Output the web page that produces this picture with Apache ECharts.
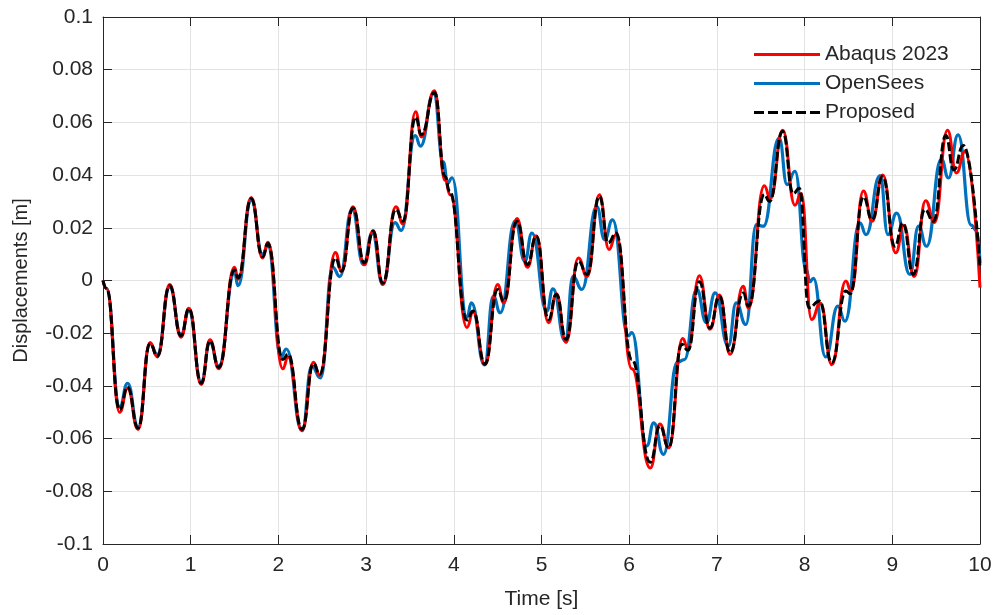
<!DOCTYPE html>
<html>
<head>
<meta charset="utf-8">
<script src="https://cdn.jsdelivr.net/npm/echarts@6/dist/echarts.min.js"></script>
<style>
html,body{margin:0;padding:0;background:#fff;}
#chart{width:997px;height:615px;}
</style>
</head>
<body>
<div id="chart"></div>
<script>
// ---- Data ----
var xTicks = [0,1,2,3,4,5,6,7,8,9,10];
var yTicks = [-0.1,-0.08,-0.06,-0.04,-0.02,0,0.02,0.04,0.06,0.08,0.1];
var legendNames = ['Abaqus 2023','OpenSees','Proposed'];

var proposedT = [0,0.04,0.19,0.28,0.40,0.536,0.62,0.76,0.89,0.98,1.12,1.22,1.32,1.50,1.54,1.69,1.82,1.88,2.05,2.11,2.27,2.40,2.47,2.65,2.72,2.85,2.98,3.08,3.19,3.34,3.42,3.565,3.63,3.78,3.90,3.95,4.15,4.22,4.355,4.50,4.57,4.72,4.84,4.94,5.08,5.17,5.28,5.42,5.52,5.66,5.76,5.85,6.03,6.24,6.35,6.45,6.60,6.67,6.80,6.92,7.03,7.15,7.30,7.36,7.54,7.60,7.75,7.87,7.94,8.05,8.17,8.31,8.47,8.52,8.67,8.77,8.89,9.03,9.12,9.24,9.37,9.47,9.61,9.70,9.81,10.0];
var proposedY = [0,-0.003,-0.049,-0.0405,-0.056,-0.024,-0.0287,-0.002,-0.021,-0.0107,-0.039,-0.023,-0.033,0.004,0.001,0.031,0.009,0.014,-0.030,-0.028,-0.0565,-0.0315,-0.0356,0.0085,0.0035,0.0275,0.0067,0.0187,-0.001,0.027,0.0225,0.062,0.0553,0.0713,0.0395,0.034,-0.015,-0.0116,-0.0318,-0.0034,-0.0078,0.0225,0.006,0.0168,-0.0148,-0.0053,-0.0224,0.0073,0.0023,0.0319,0.0143,0.018,-0.030,-0.069,-0.0552,-0.0634,-0.0242,-0.0265,-0.0005,-0.018,-0.006,-0.0274,-0.0047,-0.0097,0.0326,0.030,0.0566,0.033,0.035,-0.0103,-0.0078,-0.0312,-0.004,-0.005,0.0317,0.0231,0.0395,0.013,0.0218,0.0023,0.0269,0.0225,0.0550,0.042,0.0512,0.005];

var abaqusT = [0,0.04,0.19,0.28,0.40,0.536,0.62,0.76,0.89,0.98,1.12,1.22,1.32,1.50,1.54,1.69,1.82,1.88,2.05,2.11,2.27,2.40,2.47,2.65,2.72,2.85,2.98,3.08,3.19,3.34,3.42,3.565,3.63,3.78,3.90,3.96,4.15,4.22,4.355,4.50,4.57,4.72,4.84,4.94,5.08,5.17,5.28,5.42,5.52,5.66,5.77,5.85,6.03,6.24,6.35,6.45,6.61,6.67,6.80,6.92,7.03,7.15,7.30,7.36,7.54,7.61,7.75,7.89,7.96,8.08,8.18,8.31,8.47,8.53,8.67,8.77,8.89,9.04,9.13,9.25,9.38,9.48,9.63,9.73,9.83,10.0];
var abaqusY = [0,-0.003,-0.050,-0.041,-0.0565,-0.0235,-0.029,-0.0015,-0.0215,-0.0105,-0.0395,-0.0225,-0.0335,0.005,0.0005,0.0315,0.0085,0.0145,-0.0335,-0.029,-0.057,-0.031,-0.036,0.0106,0.0035,0.028,0.006,0.019,-0.0015,0.028,0.0215,0.064,0.0545,0.072,0.038,0.0325,-0.0178,-0.012,-0.032,-0.0015,-0.0085,0.0235,0.005,0.017,-0.016,-0.005,-0.0235,0.0085,0.0015,0.0325,0.0118,0.0175,-0.0335,-0.0712,-0.0545,-0.0635,-0.022,-0.026,0.0018,-0.0185,-0.0055,-0.028,-0.0022,-0.0105,0.036,0.031,0.057,0.0286,0.033,-0.0148,-0.0085,-0.032,-0.0002,-0.004,0.034,0.0225,0.040,0.0105,0.021,0.0015,0.0303,0.022,0.057,0.0408,0.049,-0.0027];

var openSeesT = [0,0.04,0.19,0.28,0.40,0.536,0.62,0.76,0.89,0.98,1.12,1.22,1.32,1.50,1.54,1.69,1.82,1.88,2.03,2.09,2.27,2.38,2.48,2.62,2.70,2.84,2.97,3.07,3.19,3.33,3.40,3.56,3.62,3.77,3.88,3.93,3.98,4.15,4.20,4.35,4.45,4.53,4.70,4.81,4.89,5.06,5.13,5.27,5.36,5.46,5.63,5.72,5.81,5.99,6.03,6.20,6.28,6.39,6.55,6.63,6.77,6.88,6.98,7.13,7.22,7.33,7.45,7.53,7.71,7.80,7.89,8.02,8.06,8.10,8.24,8.38,8.46,8.63,8.70,8.86,8.95,9.05,9.20,9.30,9.39,9.56,9.64,9.75,9.90,9.96,10.0];
var openSeesY = [0,-0.003,-0.048,-0.039,-0.0555,-0.024,-0.028,-0.0025,-0.0205,-0.0115,-0.0385,-0.0235,-0.0325,0.003,-0.002,0.0305,0.010,0.013,-0.029,-0.026,-0.057,-0.0325,-0.037,0.005,0.0015,0.027,0.006,0.018,-0.0015,0.022,0.019,0.055,0.051,0.071,0.045,0.037,0.039,-0.014,-0.0085,-0.032,-0.006,-0.0122,0.0225,0.0073,0.018,-0.0116,-0.0032,-0.023,0.0016,-0.0034,0.028,0.0155,0.023,-0.021,-0.0198,-0.0628,-0.054,-0.066,-0.031,-0.030,-0.0034,-0.016,-0.0047,-0.0249,-0.0085,-0.0167,0.0212,0.0206,0.054,0.0364,0.0414,0.004,-0.0005,0.0008,-0.029,-0.0097,-0.0154,0.0219,0.0174,0.0398,0.0174,0.0256,0.0023,0.0206,0.013,0.046,0.0389,0.0553,0.021,0.019,0.0067];

function zip(t, y){ var out=[]; for (var i=0;i<t.length;i++) out.push([t[i], y[i]]); return out; }
function fmtY(v){ var r = Math.round(v*100)/100; return String(r); }

var FONT = 'Liberation Sans, Arial, Helvetica, sans-serif';
var TXT = '#262626';
var AX = '#262626';
var GRID = '#e3e3e3';
var SOLID_ICON = 'path://M0,0h66v3h-66z';
var DASH_ICON = 'path://M0,0h10v3h-10z M14,0h10v3h-10z M28,0h10v3h-10z M42,0h10v3h-10z M56,0h10v3h-10z';

var chart = echarts.init(document.getElementById('chart'), null, {renderer:'canvas'});
var option = {
  animation: false,
  backgroundColor: '#ffffff',
  grid: {left: 103, right: 17, top: 17, bottom: 70, containLabel: false},
  legend: {
    orient: 'vertical',
    left: 749, top: 39,
    itemWidth: 66, itemHeight: 3, itemGap: 8,
    textStyle: {fontFamily: FONT, fontSize: 21, color: TXT},
    data: [
      {name: legendNames[0], icon: SOLID_ICON},
      {name: legendNames[1], icon: SOLID_ICON},
      {name: legendNames[2], icon: DASH_ICON}
    ]
  },
  xAxis: [{
    type: 'value', min: xTicks[0], max: xTicks[xTicks.length-1], interval: 1,
    name: 'Time [s]', nameLocation: 'middle', nameGap: 45,
    nameTextStyle: {fontFamily: FONT, fontSize: 21, color: TXT},
    axisLine: {show: true, onZero: false, lineStyle: {color: AX, width: 1}},
    axisTick: {show: true, inside: true, length: 9, lineStyle: {color: AX}},
    axisLabel: {fontFamily: FONT, fontSize: 21, color: TXT, margin: 11},
    splitLine: {show: true, lineStyle: {color: GRID, width: 1}}
  },{
    type: 'value', position: 'top', min: xTicks[0], max: xTicks[xTicks.length-1], interval: 1,
    axisLine: {show: true, onZero: false, lineStyle: {color: AX, width: 1}},
    axisTick: {show: true, inside: true, length: 9, lineStyle: {color: AX}},
    axisLabel: {show: false}, splitLine: {show: false}
  }],
  yAxis: [{
    type: 'value', min: yTicks[0], max: yTicks[yTicks.length-1], interval: 0.02,
    name: 'Displacements [m]', nameLocation: 'middle', nameGap: 72, nameRotate: 90,
    nameTextStyle: {fontFamily: FONT, fontSize: 20, color: TXT},
    axisLine: {show: true, onZero: false, lineStyle: {color: AX, width: 1}},
    axisTick: {show: true, inside: true, length: 9, lineStyle: {color: AX}},
    axisLabel: {fontFamily: FONT, fontSize: 21, color: TXT, margin: 10, formatter: fmtY},
    splitLine: {show: true, lineStyle: {color: GRID, width: 1}}
  },{
    type: 'value', position: 'right', min: yTicks[0], max: yTicks[yTicks.length-1], interval: 0.02,
    axisLine: {show: true, onZero: false, lineStyle: {color: AX, width: 1}},
    axisTick: {show: true, inside: true, length: 9, lineStyle: {color: AX}},
    axisLabel: {show: false}, splitLine: {show: false}
  }],
  series: [
    {name: legendNames[0], type: 'line', data: zip(abaqusT, abaqusY), smooth: 0.5, smoothMonotone: 'x',
     showSymbol: false, symbol: 'none', z: 3, color: '#ff0000',
     lineStyle: {color: '#ff0000', width: 3}},
    {name: legendNames[1], type: 'line', data: zip(openSeesT, openSeesY), smooth: 0.5, smoothMonotone: 'x',
     showSymbol: false, symbol: 'none', z: 2, color: '#0072bd',
     lineStyle: {color: '#0072bd', width: 3.2}},
    {name: legendNames[2], type: 'line', data: zip(proposedT, proposedY), smooth: 0.5, smoothMonotone: 'x',
     showSymbol: false, symbol: 'none', z: 4, color: '#000000',
     lineStyle: {color: '#000000', width: 3, type: [9, 3]}}
  ]
};
chart.setOption(option);
</script>
</body>
</html>
